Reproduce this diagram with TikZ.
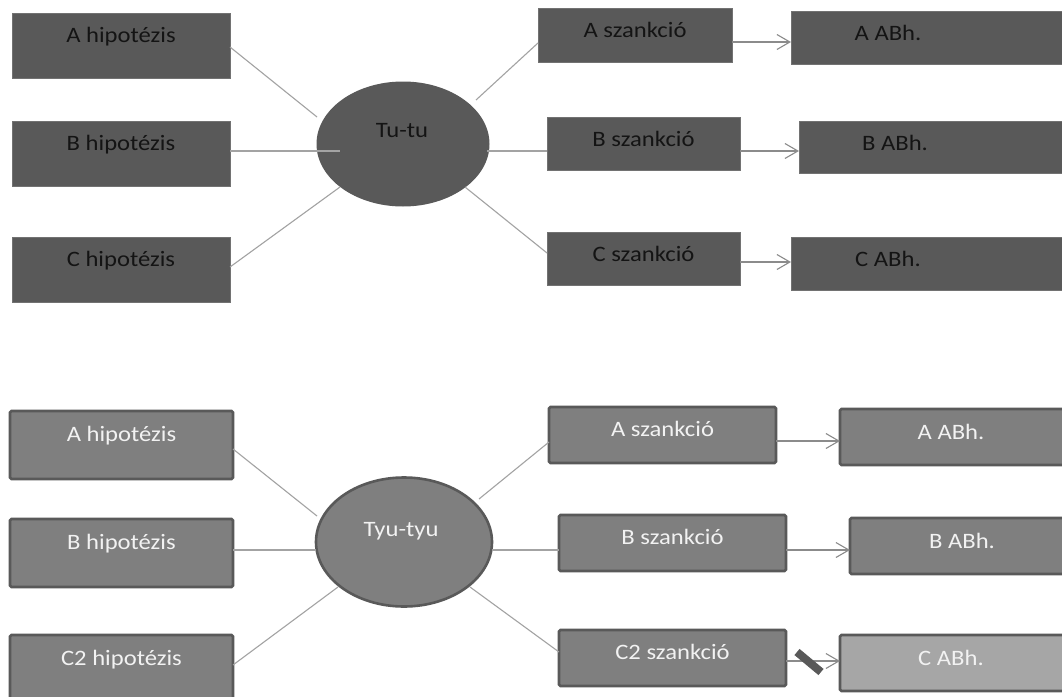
\documentclass[tikz,border=0pt]{standalone}
\usepackage{fontspec}
\setmainfont{Carlito}[FakeStretch=1.12]
\usetikzlibrary{arrows.meta,shapes.geometric}
\definecolor{dk}{HTML}{595959}
\definecolor{md}{HTML}{7F7F7F}
\definecolor{lt}{HTML}{A6A6A6}
\definecolor{ln}{HTML}{A3A3A3}
\definecolor{edgetop}{HTML}{727272}
\begin{document}
\begin{tikzpicture}[x=1pt,y=-1pt,
  sz/.style 2 args={minimum width=#1pt,minimum height=#2pt},
  base/.style={rectangle,anchor=north west,inner sep=0pt,outer sep=0pt},
  topbox/.style={base,fill=dk,draw=edgetop,line width=0.6pt},
  botbox/.style={base,fill=md,draw=dk,line width=2.6pt,rounded corners=1.5pt},
  litebox/.style={base,fill=lt,draw=dk,line width=2.6pt,rounded corners=1.5pt},
  toptxt/.style={anchor=base,inner sep=0pt,text={rgb,255:red,20;green,20;blue,20},font=\fontsize{22}{26}\selectfont},
  bottxt/.style={anchor=base,inner sep=0pt,text={rgb,255:red,242;green,242;blue,242},font=\fontsize{22}{26}\selectfont},
  conn/.style={draw=ln,line width=1.1pt},
  arr/.style={draw=ln!85!black,line width=1.1pt,-{Straight Barb[length=13pt,width=15pt,line width=1.1pt]}}
]
\clip (0,0) rectangle (1062,696);
\fill[white] (0,0) rectangle (1062,696);

% ---------------- top diagram ----------------
\node[topbox,sz={218}{65}] (th1) at (12,13) {};
\node[topbox,sz={218}{65}] (th2) at (12,121) {};
\node[topbox,sz={218}{65}] (th3) at (12,237) {};
\node[toptxt] (tth1) at ([yshift=-29pt]th1.north) {A hipotézis};
\node[toptxt] (tth2) at ([yshift=-29pt]th2.north) {B hipotézis};
\node[toptxt] (tth3) at ([yshift=-29pt]th3.north) {C hipotézis};

\node[ellipse,fill=dk,inner sep=0pt,minimum width=173pt,minimum height=125pt] (te) at (403,144) {};
\node[toptxt] (tte) at (402,137) {Tu-tu};

\node[topbox,sz={194}{54}] (ts1) at (538,8) {};
\node[topbox,sz={193}{53}] (ts2) at (547,117) {};
\node[topbox,sz={193}{53}] (ts3) at (547,232) {};
\node[toptxt] (tts1) at ([yshift=-29pt]ts1.north) {A szankció};
\node[toptxt] (tts2) at ([yshift=-29pt]ts2.north) {B szankció};
\node[toptxt] (tts3) at ([yshift=-29pt]ts3.north) {C szankció};

\node[topbox,sz={300}{53}] (ta1) at (791,11) {};
\node[topbox,sz={300}{52}] (ta2) at (799,121) {};
\node[topbox,sz={300}{53}] (ta3) at (791,237) {};
\node[toptxt] (tta1) at ([xshift=97pt,yshift=-29pt]ta1.north west) {A ABh.};
\node[toptxt] (tta2) at ([xshift=96pt,yshift=-29pt]ta2.north west) {B ABh.};
\node[toptxt] (tta3) at ([xshift=97pt,yshift=-29pt]ta3.north west) {C ABh.};

\coordinate (teA) at (317,117);
\coordinate (teB) at (340,151);
\coordinate (teC) at (340,187);
\coordinate (teR1) at (476,100);
\coordinate (teR2) at (487,151);
\coordinate (teR3) at (465,187);

\draw[conn] (th1.east |- 0,47) -- (teA);
\draw[conn] (th2.east |- 0,151) -- (teB);
\draw[conn] (th3.east |- 0,267) -- (teC);
\draw[conn] (teR1) -- (ts1.west |- 0,43);
\draw[conn] (teR2) -- (ts2.west |- 0,151);
\draw[conn] (teR3) -- (ts3.west |- 0,253);

\draw[arr] (ts1.east |- 0,42) -- (ta1.west |- 0,42);
\draw[arr] (ts2.east |- 0,151) -- (ta2.west |- 0,151);
\draw[arr] (ts3.east |- 0,262) -- (ta3.west |- 0,262);

% ---------------- bottom diagram ----------------
\node[botbox,sz={223}{68}] (bh1) at (10,411) {};
\node[botbox,sz={223}{68}] (bh2) at (10,519) {};
\node[botbox,sz={223}{68}] (bh3) at (10,635) {};
\node[bottxt] (tbh1) at ([yshift=-30pt]bh1.north) {A hipotézis};
\node[bottxt] (tbh2) at ([yshift=-30pt]bh2.north) {B hipotézis};
\node[bottxt] (tbh3) at ([yshift=-30pt]bh3.north) {C2 hipotézis};

\node[ellipse,fill=md,draw=dk,line width=2.6pt,inner sep=0pt,minimum width=176pt,minimum height=129pt] (be) at (404,542) {};
\node[bottxt] (tbe) at (401,536) {Tyu-tyu};

\node[botbox,sz={227}{56}] (bs1) at (549,407) {};
\node[botbox,sz={227}{56}] (bs2) at (559,515) {};
\node[botbox,sz={227}{56}] (bs3) at (559,630) {};
\node[bottxt] (tbs1) at ([yshift=-29pt]bs1.north) {A szankció};
\node[bottxt] (tbs2) at ([yshift=-29pt]bs2.north) {B szankció};
\node[bottxt] (tbs3) at ([yshift=-29pt]bs3.north) {C2 szankció};

\node[botbox,sz={300}{56}] (ba1) at (840,409) {};
\node[botbox,sz={300}{56}] (ba2) at (850,518) {};
\node[litebox,sz={300}{56}] (ba3) at (840,635) {};
\node[bottxt] (tba1) at ([xshift=111pt,yshift=-30pt]ba1.north west) {A ABh.};
\node[bottxt] (tba2) at ([xshift=112pt,yshift=-30pt]ba2.north west) {B ABh.};
\node[bottxt] (tba3) at ([xshift=111pt,yshift=-30pt]ba3.north west) {C ABh.};

\coordinate (beA) at (317,516);
\coordinate (beB) at (316,550);
\coordinate (beC) at (338,587);
\coordinate (beR1) at (479,499);
\coordinate (beR2) at (492,550);
\coordinate (beR3) at (470,587);

\draw[conn] (bh1.east |- 0,449) -- (beA);
\draw[conn] (bh2.east |- 0,550) -- (beB);
\draw[conn] (bh3.east |- 0,665) -- (beC);
\draw[conn] (beR1) -- (bs1.west |- 0,442);
\draw[conn] (beR2) -- (bs2.west |- 0,550);
\draw[conn] (beR3) -- (bs3.west |- 0,652);

\draw[arr] (bs1.east |- 0,441) -- (ba1.west |- 0,441);
\draw[arr] (bs2.east |- 0,550) -- (ba2.west |- 0,550);
\draw[arr] (bs3.east |- 0,661) -- (ba3.west |- 0,661);

% blocking bar on the last arrow
\coordinate (barA) at (797,652);
\coordinate (barB) at (821,672);
\draw[dk,line width=8pt] (barA) -- (barB);
\end{tikzpicture}
\end{document}
